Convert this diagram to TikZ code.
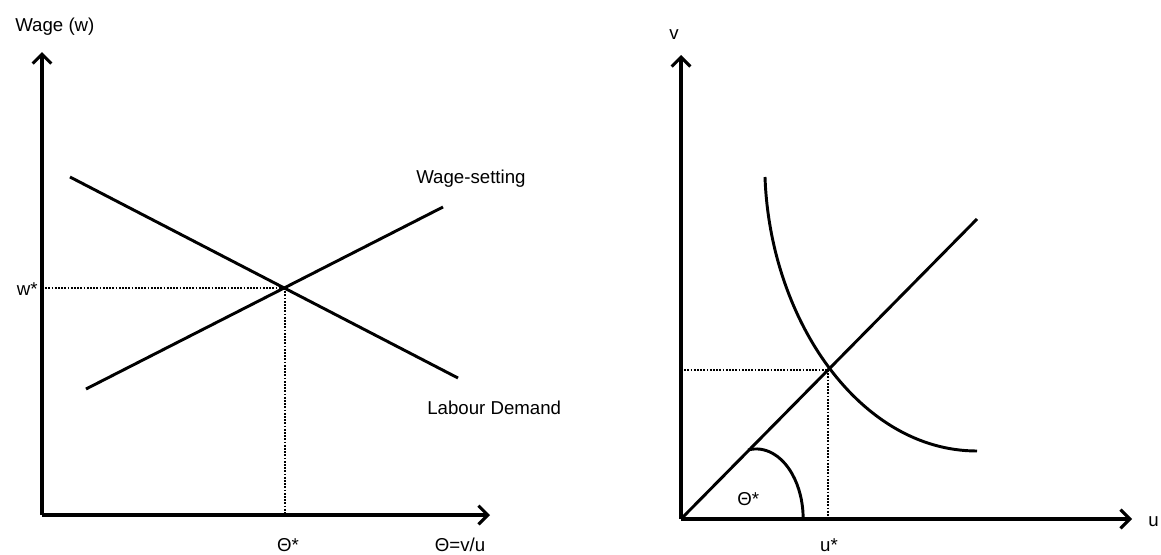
\documentclass[tikz,border=0pt]{standalone}
\usepackage{fontspec}
\setmainfont{Liberation Sans}
\usetikzlibrary{arrows.meta}

\begin{document}
\begin{tikzpicture}[
  x=0.75pt, y=-0.75pt,
  font=\fontsize{14}{16}\selectfont,
  lbl/.style={inner sep=0pt, anchor=base},
  axis/.style={line width=2.5pt, -{Straight Barb[length=7pt, width=14pt, line width=2.3pt]}},
  curve/.style={line width=2.2pt},
  guide/.style={line width=1.4pt, dash pattern=on 1.3pt off 1.1pt}
]
  \useasboundingbox (0,0) rectangle (1161,554);

  % left panel: wage-setting and labour demand
  \coordinate (oL) at (42,515);
  \coordinate (yL) at (42,52);
  \coordinate (xL) at (490,515);
  \coordinate (ldA) at (70,177);
  \coordinate (ldB) at (458,378);
  \coordinate (wsA) at (86,389);
  \coordinate (wsB) at (443,207);
  \coordinate (eqL) at (285,288);
  \coordinate (wL) at (42,288);
  \coordinate (tL) at (285,515);

  \draw[axis] (oL) -- (yL);
  \draw[axis] (oL) -- (xL);
  \draw[curve] (ldA) -- (ldB);
  \draw[curve] (wsA) -- (wsB);
  \draw[guide] (wL) -- (eqL);
  \draw[guide] (eqL) -- (tL);

  \node[lbl, anchor=base west] (wage) at (15,31) {Wage (w)};
  \node[lbl, anchor=base east] (wstar) at (38,295) {w*};
  \node[lbl, anchor=base west] (wset) at (416,183) {Wage-setting};
  \node[lbl, anchor=base west] (ldem) at (427,414) {Labour Demand};
  \node[lbl] (tstar) at (288,551) {Θ*};
  \node[lbl] (theta) at (460,551) {Θ=v/u};

  % right panel: Beveridge curve
  \coordinate (oR) at (681,519);
  \coordinate (yR) at (681,55);
  \coordinate (xR) at (1132,519);
  \coordinate (rayB) at (977,219);
  \coordinate (bcA) at (765,177);
  \coordinate (bcB) at (977,451);
  \coordinate (eqR) at (828,370);
  \coordinate (vR) at (681,370);
  \coordinate (uR) at (828,519);
  \coordinate (arcA) at (748,450);

  \draw[axis] (oR) -- (yR);
  \draw[axis] (oR) -- (xR);
  \draw[curve] (oR) -- (rayB);
  \draw[curve] (bcA) .. controls (770,320) and (860,451) .. (bcB);
  \draw[guide] (vR) -- (eqR);
  \draw[guide] (eqR) -- (uR);
  \draw[curve] (arcA) arc[start angle=-100, end angle=0, x radius=47, y radius=70];

  \node[lbl] (vlab) at (674,39) {v};
  \node[lbl, anchor=base west] (ulab) at (1148,526) {u};
  \node[lbl, anchor=base west] (tin) at (737,505) {Θ*};
  \node[lbl] (ustar) at (829,551) {u*};
\end{tikzpicture}
\end{document}
